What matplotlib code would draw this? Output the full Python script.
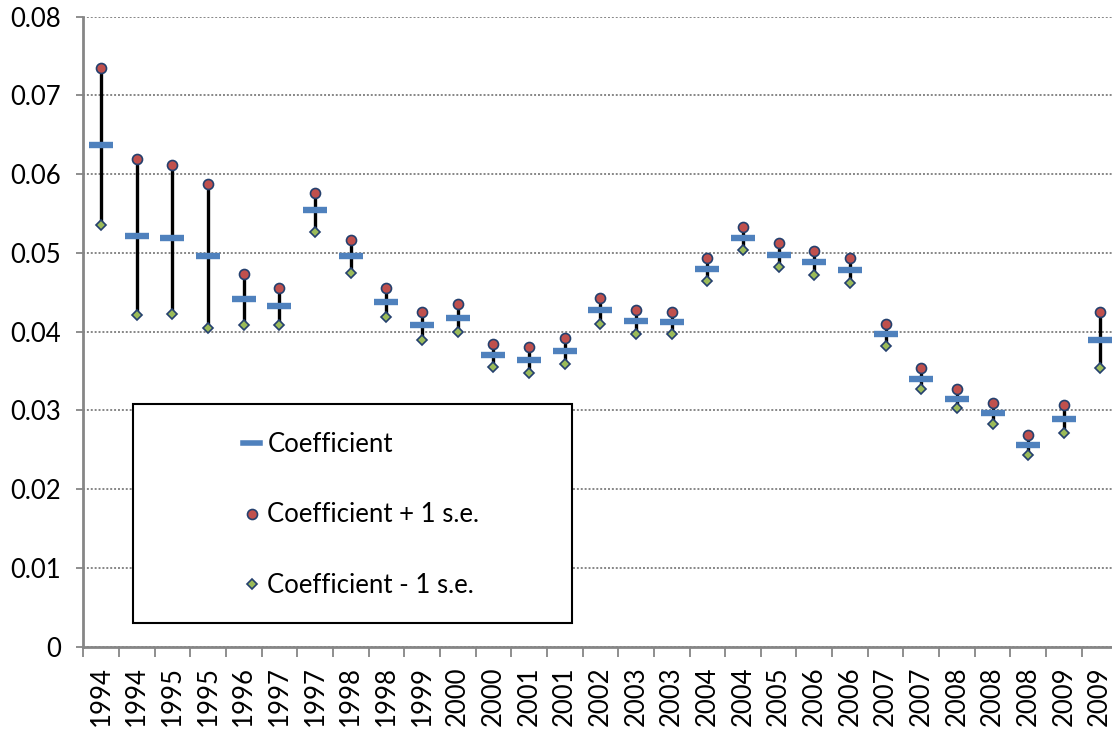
import matplotlib
matplotlib.use("Agg")
import matplotlib.pyplot as plt
from matplotlib.lines import Line2D
from matplotlib.patches import Rectangle
import numpy as np

plt.rcParams['font.family'] = ['Lato', 'DejaVu Sans']

# labels on the category axis (as printed)
years = ['1994', '1994', '1995', '1995', '1996', '1997', '1997', '1998', '1998', '1999',
         '2000', '2000', '2001', '2001', '2002', '2003', '2003', '2004', '2004', '2005',
         '2006', '2006', '2007', '2007', '2008', '2008', '2008', '2009', '2009']

# coefficient estimates
coef = [0.0637, 0.0521, 0.0519, 0.0496, 0.0441, 0.0433, 0.0554, 0.0496, 0.0438, 0.0408,
        0.0417, 0.0370, 0.0364, 0.0376, 0.0428, 0.0414, 0.0412, 0.0480, 0.0519, 0.0498,
        0.0488, 0.0478, 0.0397, 0.0340, 0.0314, 0.0297, 0.0256, 0.0289, 0.0390]
# coefficient + 1 s.e.
upper = [0.0735, 0.0619, 0.0612, 0.0587, 0.0473, 0.0456, 0.0576, 0.0516, 0.0455, 0.0425,
         0.0435, 0.0385, 0.0380, 0.0392, 0.0443, 0.0428, 0.0425, 0.0493, 0.0533, 0.0513,
         0.0503, 0.0493, 0.0410, 0.0354, 0.0327, 0.0309, 0.0269, 0.0307, 0.0425]
# coefficient - 1 s.e.
lower = [0.0536, 0.0421, 0.0423, 0.0405, 0.0409, 0.0408, 0.0527, 0.0474, 0.0419, 0.0390,
         0.0400, 0.0355, 0.0347, 0.0359, 0.0410, 0.0397, 0.0397, 0.0465, 0.0504, 0.0482,
         0.0472, 0.0462, 0.0382, 0.0327, 0.0303, 0.0283, 0.0244, 0.0271, 0.0354]

BLUE = '#4F81BD'
RED = '#C0504D'
GREEN = '#9BBB59'
EDGE = '#24406E'
AXIS_GREY = '#868686'
FS = 18.5

W, H = 1112, 739
fig = plt.figure(figsize=(W / 100, H / 100), dpi=100)
# plot area in pixels: left 83, zero line at y=647, top (0.08) at y=17, 29 categories 35.66 px wide
ax = fig.add_axes([83.3 / W, 92.3 / H, 29 * 35.66 / W, 630 / H])

x = np.arange(len(years))
ax.vlines(x, lower, upper, colors='black', linewidth=2.4, zorder=2)
ax.plot(x, coef, linestyle='none', marker='_', markersize=17, markeredgewidth=4.6,
        color=BLUE, zorder=3)
ax.plot(x, upper, linestyle='none', marker='o', markersize=7.2, markerfacecolor=RED,
        markeredgecolor=EDGE, markeredgewidth=1.2, zorder=4)
ax.plot(x, lower, linestyle='none', marker='D', markersize=4.8, markerfacecolor=GREEN,
        markeredgecolor=EDGE, markeredgewidth=1.2, zorder=4)

ax.set_xlim(-0.5, len(years) - 0.5)
ax.set_ylim(0, 0.08)
ax.set_yticks(np.arange(0, 0.081, 0.01))
ax.set_yticklabels(['0', '0.01', '0.02', '0.03', '0.04', '0.05', '0.06', '0.07', '0.08'])
ax.set_xticks(x)
ax.set_xticklabels(years, rotation=90)
ax.set_xticks(np.arange(-0.5, len(years)), minor=True)
ax.tick_params(axis='x', which='major', length=0, pad=14, labelsize=FS)
ax.tick_params(axis='x', which='minor', length=7, width=1.3, color=AXIS_GREY)
ax.tick_params(axis='y', length=5, width=1.3, color=AXIS_GREY, pad=11, labelsize=FS)

ax.grid(axis='y', color=AXIS_GREY, linestyle=(0, (1, 1)), linewidth=1.4)
ax.set_axisbelow(True)
for side in ['top', 'right']:
    ax.spines[side].set_visible(False)
for side in ['left', 'bottom']:
    ax.spines[side].set_color(AXIS_GREY)
    ax.spines[side].set_linewidth(2.0)

# legend: white box with black border, entries set inside it
box = Rectangle((132.7 / W, (H - 622.7) / H), 439 / W, 218.7 / H, transform=fig.transFigure,
                facecolor='white', edgecolor='black', linewidth=1.5, zorder=5)
fig.add_artist(box)

handles = [
    Line2D([], [], color=BLUE, linewidth=4),
    Line2D([], [], linestyle='none', marker='o', markersize=7.2, markerfacecolor=RED,
           markeredgecolor=EDGE, markeredgewidth=1.2),
    Line2D([], [], linestyle='none', marker='D', markersize=4.8, markerfacecolor=GREEN,
           markeredgecolor=EDGE, markeredgewidth=1.2),
]
labels = ['Coefficient', 'Coefficient + 1 s.e.', 'Coefficient - 1 s.e.']
leg = fig.legend(handles, labels, loc='center left', bbox_to_anchor=(243 / W, (H - 515) / H),
                 frameon=False, fontsize=FS, borderpad=0, handlelength=0.68,
                 handletextpad=0.27, labelspacing=1.78, borderaxespad=0)
leg.set_zorder(6)

fig.savefig('out.png', dpi=100, facecolor='white')
